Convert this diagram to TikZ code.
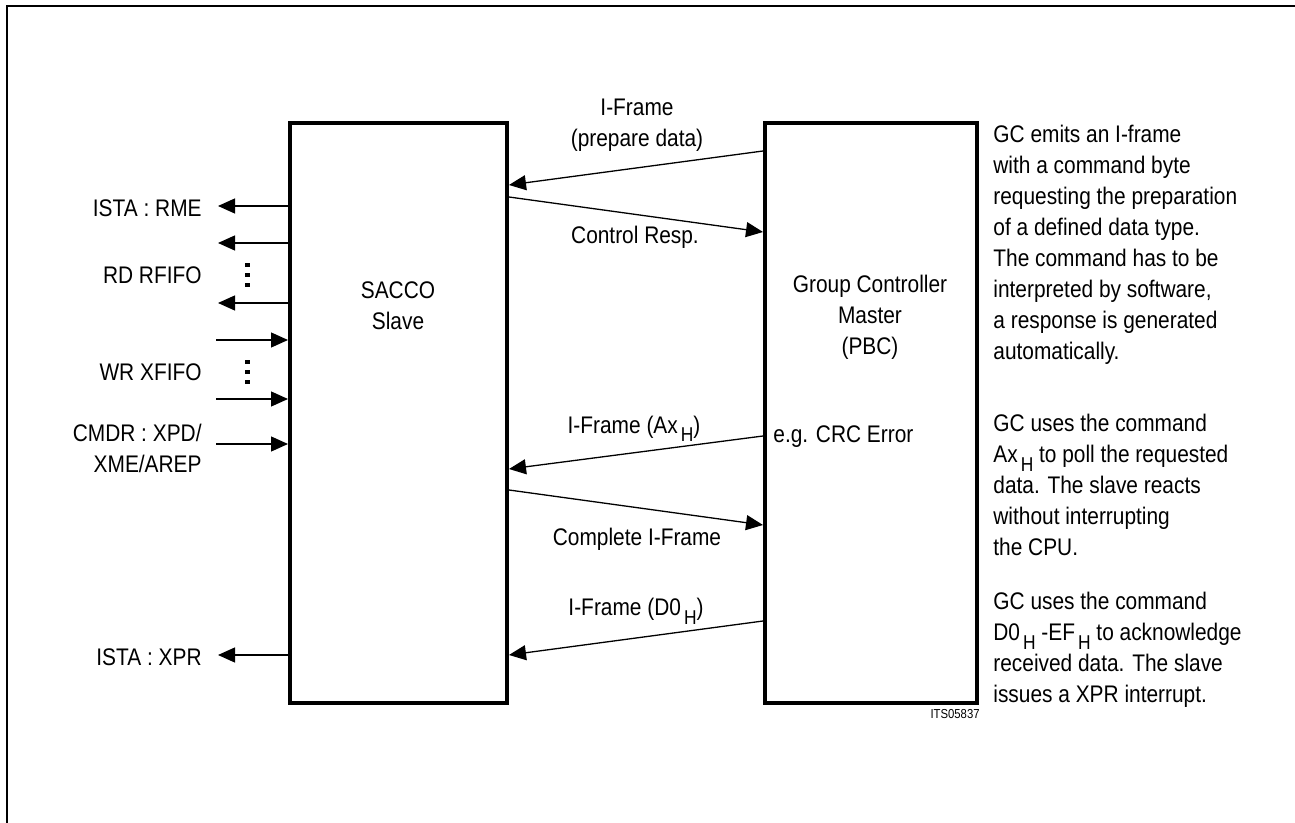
\documentclass[tikz,border=0pt]{standalone}
\usepackage{fontspec}
\setmainfont{Liberation Sans}[FakeStretch=0.87]
\usetikzlibrary{arrows.meta, positioning, calc}
\newcommand{\subH}{\hspace{1.5pt}\raisebox{-4.5pt}{\fontsize{10}{10}\selectfont H}}

\begin{document}
\begin{tikzpicture}[
    x=0.5pt, y=-0.5pt,
    font=\fontsize{12}{15.5}\selectfont,
    unit/.style={rectangle, draw, line width=2pt, minimum width=#1, minimum height=290pt, inner sep=0pt},
    txt/.style={inner sep=0pt},
    sig/.style={-{Triangle[length=8.5pt, width=7.5pt]}, line width=0.65pt}
]
\useasboundingbox (0,0) rectangle (1295,823);

% Frame
\draw[line width=1.2pt] (7,823) -- (7,6) -- (1295,6);

% Slave and master
\node[unit=108.5pt] (slave) at (398.5,413) {};
\node[txt, align=center] (slavetxt) at (398,306) {SACCO\\Slave};
\node[unit=106pt] (master) at (871,413) {};
\node[txt, align=center] (mastertxt) at (870,317.5) {Group Controller\\Master\\(PBC)};

% Frames exchanged
\draw[sig] ($(master.north west)+(0,30)$) -- ($(slave.north east)+(0,64)$);
\draw[sig] ($(slave.north east)+(0,76)$) -- ($(master.north west)+(0,111)$);
\draw[sig] ($(master.north west)+(0,315)$) -- ($(slave.north east)+(0,348)$);
\draw[sig] ($(slave.north east)+(0,369)$) -- ($(master.north west)+(0,404)$);
\draw[sig] ($(master.north west)+(0,500)$) -- ($(slave.north east)+(0,534)$);

\node[txt, align=center] (ifprep) at (637,125) {I-Frame\\(prepare data)};
\node[txt, anchor=base] (ctrl) at (635,244) {Control Resp.};
\node[txt, anchor=base] (ifax) at (634,433) {I-Frame (Ax\subH)};
\node[txt, anchor=base] (compl) at (637,545) {Complete I-Frame};
\node[txt, anchor=base] (ifd0) at (636,615) {I-Frame (D0\subH)};
\node[txt, anchor=base west] (crc) at (773,443) {e.g. CRC Error};

% Slave interface
\foreach \dy in {85,122,182,534}
  \draw[sig] ($(slave.north west)+(0,\dy)$) -- ++(-70,0);
\foreach \dy in {219,278,323}
  \draw[sig] ($(slave.north west)+(-72,\dy)$) -- ++(72,0);

\node[txt, anchor=base east] (rme) at (202,216.5) {ISTA : RME};
\node[txt, anchor=base east] (rfifo) at (202,283.5) {RD RFIFO};
\node[txt, anchor=base east] (xfifo) at (202,380.5) {WR XFIFO};
\node[txt, anchor=north east, align=right] (cmdr) at (202,423.5) {CMDR : XPD/\\XME/AREP};
\node[txt, anchor=base east] (xpr) at (202,665.5) {ISTA : XPR};

\foreach \cy in {275,372}
  \foreach \k in {-1,0,1}
    \fill (245,\cy+\k*10-2) rectangle ++(4.5,4.5);

% Notes
\node[txt, anchor=north west, align=left] (note1) at (993,124.5) {GC emits an I-frame\\with a command byte\\requesting the preparation\\of a defined data type.\\The command has to be\\interpreted by software,\\a response is generated\\automatically.};
\node[txt, anchor=north west, align=left] (note2) at (993,413.5) {GC uses the command\\Ax\subH{} to poll the requested\\data. The slave reacts\\without interrupting\\the CPU.};
\node[txt, anchor=north west, align=left] (note3) at (993,591.5) {GC uses the command\\D0\subH{} -EF\subH{} to acknowledge\\received data. The slave\\issues a XPR interrupt.};

\node[txt, anchor=base east, font=\fontsize{6.5}{7}\selectfont] (its) at (980,718) {ITS05837};

\end{tikzpicture}
\end{document}
